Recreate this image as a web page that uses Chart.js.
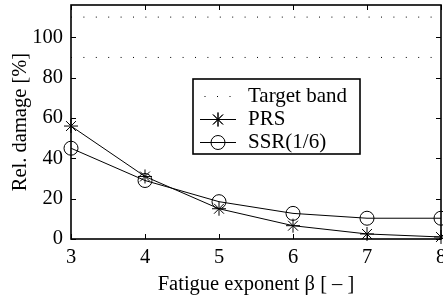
<!DOCTYPE html>
<html>
<head>
<meta charset="utf-8">
<script src="https://cdn.jsdelivr.net/npm/chart.js@4.4.1/dist/chart.umd.min.js"></script>
<style>
  html, body { margin: 0; padding: 0; background: #fff; overflow: hidden; }
  #wrap { width: 443px; height: 302px; }
</style>
</head>
<body>
<div id="wrap"><canvas id="myChart"></canvas></div>
<script>
const betas = [3, 4, 5, 6, 7, 8];
const prs = [56, 31, 15, 6.6, 2.5, 1];
const ssr = [45, 29, 18.5, 12.7, 10.3, 10.3];
const bandLow = 90;
const bandHigh = 110;
const yTicks = [0, 20, 40, 60, 80, 100];
const xTicks = [3, 4, 5, 6, 7, 8];

const FONT = "'Liberation Serif', 'Times New Roman', serif";
const FS = 20.5;

const toXY = (vals) => betas.map((b, i) => ({ x: b, y: vals[i] }));
const band = (v) => [{ x: betas[0], y: v }, { x: betas[betas.length - 1], y: v }];

// box and inside ticks, matlab style
const framePlugin = {
    id: "frame",
    afterDatasetsDraw(chart) {
        const { ctx, chartArea: a, scales } = chart;
        ctx.save();
        ctx.strokeStyle = "#000";
        ctx.lineWidth = 1;
        const tl = 5;
        ctx.beginPath();
        xTicks.forEach((v) => {
            const px = Math.round(scales.x.getPixelForValue(v)) + 0.5;
            ctx.moveTo(px, a.bottom); ctx.lineTo(px, a.bottom - tl);
            ctx.moveTo(px, a.top); ctx.lineTo(px, a.top + tl);
        });
        yTicks.forEach((v) => {
            const py = Math.round(scales.y.getPixelForValue(v)) + 0.5;
            ctx.moveTo(a.left, py); ctx.lineTo(a.left + tl, py);
            ctx.moveTo(a.right, py); ctx.lineTo(a.right - tl, py);
        });
        ctx.stroke();
        ctx.lineWidth = 1.6;
        ctx.strokeRect(a.left, a.top, a.right - a.left, a.bottom - a.top);

        // legend
        const lx = 193, ly = 79, lw = 167, lh = 75;
        ctx.fillStyle = "#fff";
        ctx.fillRect(lx, ly, lw, lh);
        ctx.lineWidth = 1.6;
        ctx.strokeRect(lx, ly, lw, lh);
        ctx.font = "21px " + FONT;
        ctx.fillStyle = "#000";
        ctx.textBaseline = "middle";
        const rows = [96, 119, 142];
        // target band sample
        ctx.fillRect(204.5, rows[0], 1, 1);
        ctx.fillRect(217, rows[0], 1, 1);
        ctx.fillRect(229.5, rows[0], 1, 1);
        ctx.fillText("Target band", 248, rows[0]);
        ctx.lineWidth = 1;
        [1, 2].forEach((r) => {
            ctx.beginPath();
            ctx.moveTo(200, rows[r] + 0.5); ctx.lineTo(236, rows[r] + 0.5);
            ctx.stroke();
        });
        Chart.helpers.drawPoint(ctx, { pointStyle: "star", radius: 7, rotation: 0, borderWidth: 1 }, 218, rows[1] + 0.5);
        ctx.stroke();
        ctx.beginPath();
        ctx.arc(218, rows[2] + 0.5, 7, 0, Math.PI * 2);
        ctx.stroke();
        ctx.fillText("PRS", 248, rows[1]);
        ctx.fillText("SSR(1/6)", 248, rows[2]);
        ctx.restore();
    },
};

const ctx = document.getElementById("myChart").getContext("2d");
const myChart = new Chart(ctx, {
    type: "line",
    data: {
        datasets: [
            {
                label: "Target band",
                data: band(bandHigh),
                borderColor: "#000",
                borderWidth: 1,
                borderDash: [1, 11.4],
                pointRadius: 0,
            },
            {
                label: "Target band low",
                data: band(bandLow),
                borderColor: "#000",
                borderWidth: 1,
                borderDash: [1, 11.4],
                pointRadius: 0,
            },
            {
                label: "PRS",
                data: toXY(prs),
                borderColor: "#000",
                borderWidth: 1,
                pointStyle: "star",
                pointRadius: 7,
                pointBorderColor: "#000",
                pointBorderWidth: 1,
                tension: 0,
            },
            {
                label: "SSR(1/6)",
                data: toXY(ssr),
                borderColor: "#000",
                borderWidth: 1,
                pointStyle: "circle",
                pointRadius: 7,
                pointBackgroundColor: "rgba(0,0,0,0)",
                pointBorderColor: "#000",
                pointBorderWidth: 1,
                tension: 0,
            },
        ],
    },
    options: {
        responsive: true,
        maintainAspectRatio: false,
        animation: false,
        clip: false,
        layout: { autoPadding: false, padding: { top: 5, right: 2, left: 0, bottom: 0 } },
        plugins: {
            legend: { display: false },
            tooltip: { enabled: false },
        },
        scales: {
            x: {
                type: "linear",
                min: 3,
                max: 8,
                grid: { display: false, drawTicks: false },
                border: { display: false },
                afterBuildTicks: (s) => { s.ticks = xTicks.map((v) => ({ value: v })); },
                afterFit: (s) => { s.height = 63; s.paddingLeft = 0; s.paddingRight = 0; },
                ticks: { color: "#000", padding: 6, maxRotation: 0, font: { family: FONT, size: FS } },
                title: {
                    display: true,
                    text: "Fatigue exponent β [ – ]",
                    color: "#000",
                    font: { family: FONT, size: FS },
                    padding: { top: 0, bottom: 5 },
                },
            },
            y: {
                min: 0,
                max: 116,
                grid: { display: false, drawTicks: false },
                border: { display: false },
                afterBuildTicks: (s) => { s.ticks = yTicks.map((v) => ({ value: v })); },
                afterFit: (s) => { s.width = 71; s.paddingTop = 0; s.paddingBottom = 0; },
                ticks: { color: "#000", padding: 8, font: { family: FONT, size: FS } },
                title: {
                    display: true,
                    text: "Rel. damage [%]",
                    color: "#000",
                    font: { family: FONT, size: FS },
                    padding: { top: 8, bottom: 0 },
                },
            },
        },
    },
    plugins: [framePlugin],
});
</script>
</body>
</html>
